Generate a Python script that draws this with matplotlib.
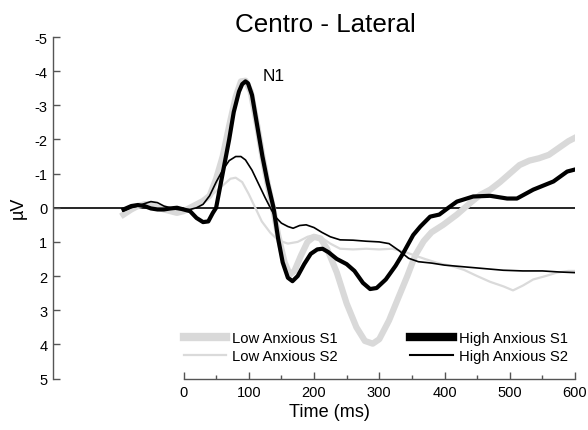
import matplotlib
matplotlib.use('Agg')
import matplotlib.pyplot as plt
from matplotlib.lines import Line2D

plt.rcParams['font.family'] = ['Liberation Sans', 'DejaVu Sans']
plt.rcParams['axes.unicode_minus'] = False

# time points (ms) and amplitudes (uV)
t_high1 = [-92, -80, -70, -60, -50, -40, -30, -20, -10, 0, 10, 20, 30, 38, 45, 50, 57, 64, 70, 77,
           85, 90, 95, 99, 105, 113, 121, 129, 138, 145, 152, 160, 167, 175, 185, 195, 205, 213,
           222, 235, 250, 262, 275, 286, 296, 310, 325, 337, 352, 363, 378, 392, 406, 419, 444,
           470, 496, 511, 536, 567, 588, 600]
v_high1 = [0.05, -0.05, -0.08, -0.05, 0.02, 0.05, 0.05, 0.02, 0.0, 0.05, 0.1, 0.3, 0.42, 0.4, 0.15,
           0.0, -0.7, -1.4, -2.0, -2.8, -3.4, -3.62, -3.7, -3.64, -3.3, -2.4, -1.5, -0.73, 0.0, 0.9,
           1.6, 2.05, 2.15, 2.0, 1.65, 1.35, 1.22, 1.2, 1.3, 1.5, 1.65, 1.85, 2.2, 2.38, 2.35, 2.1,
           1.7, 1.32, 0.8, 0.55, 0.26, 0.2, 0.0, -0.18, -0.33, -0.35, -0.27, -0.27, -0.53, -0.77,
           -1.06, -1.12]

t_high2 = [-92, -80, -70, -60, -50, -40, -30, -20, -10, 0, 10, 20, 30, 40, 50, 60, 70, 80, 88, 95,
           105, 115, 125, 133, 140, 150, 160, 168, 178, 188, 200, 212, 225, 240, 260, 280, 300, 315,
           330, 345, 360, 380, 400, 430, 460, 490, 520, 550, 575, 600]
v_high2 = [0.1, 0.0, -0.05, -0.12, -0.18, -0.15, -0.05, 0.0, 0.05, 0.05, 0.05, 0.0, -0.1, -0.35,
           -0.75, -1.1, -1.38, -1.5, -1.5, -1.4, -1.1, -0.7, -0.3, 0.0, 0.25, 0.45, 0.55, 0.6, 0.52,
           0.5, 0.58, 0.72, 0.85, 0.94, 0.95, 0.98, 1.0, 1.05, 1.25, 1.48, 1.58, 1.62, 1.68, 1.73,
           1.78, 1.83, 1.85, 1.85, 1.88, 1.9]

t_low1 = [-92, -80, -70, -60, -50, -40, -30, -20, -10, 0, 10, 20, 30, 40, 50, 60, 70, 80, 88, 95,
          103, 113, 121, 129, 138, 145, 155, 163, 170, 180, 190, 200, 210, 220, 235, 250, 265, 278,
          290, 300, 315, 330, 343, 355, 368, 380, 398, 419, 440, 455, 470, 485, 500, 515, 530, 545,
          560, 575, 590, 600]
v_low1 = [0.2, 0.05, -0.05, -0.1, -0.1, 0.0, 0.05, 0.1, 0.15, 0.1, 0.0, -0.1, -0.2, -0.35, -0.85,
          -1.5, -2.4, -3.25, -3.7, -3.72, -3.4, -2.4, -1.5, -0.7, 0.1, 0.8, 1.6, 1.96, 1.85, 1.4,
          1.0, 0.85, 0.9, 1.2, 1.9, 2.8, 3.5, 3.9, 3.98, 3.85, 3.3, 2.6, 2.0, 1.4, 0.98, 0.72, 0.5,
          0.2, -0.15, -0.38, -0.53, -0.75, -1.0, -1.25, -1.38, -1.45, -1.55, -1.75, -1.95, -2.05]

t_low2 = [-92, -80, -70, -60, -50, -40, -30, -20, -10, 0, 10, 20, 30, 45, 60, 72, 80, 90, 100, 110,
          120, 133, 145, 160, 175, 190, 200, 212, 225, 240, 260, 280, 300, 320, 340, 355, 370, 390,
          410, 430, 450, 470, 490, 505, 520, 536, 555, 572, 590, 600]
v_low2 = [0.15, 0.0, -0.1, -0.15, -0.15, -0.05, 0.0, 0.05, 0.1, 0.05, 0.0, -0.05, -0.15, -0.4,
          -0.65, -0.85, -0.88, -0.75, -0.4, 0.0, 0.4, 0.73, 0.95, 1.05, 1.0, 0.85, 0.8, 0.88, 1.05,
          1.2, 1.22, 1.2, 1.22, 1.2, 1.3, 1.4, 1.5, 1.62, 1.7, 1.82, 2.0, 2.17, 2.3, 2.42, 2.28,
          2.1, 2.0, 1.9, 1.85, 1.85]

labels = ['Low Anxious S1', 'Low Anxious S2', 'High Anxious S1', 'High Anxious S2']
colors = ['#d9d9d9', '#dadada', 'black', 'black']

fig = plt.figure(figsize=(5.88, 4.31), dpi=100)
ax = fig.add_axes([53/588, 1 - 379.5/431, 522/588, 341.5/431])

ax.axhline(0, color='black', lw=1.2, zorder=1)

ax.plot(t_low1, v_low1, color=colors[0], lw=4.5, zorder=2)
ax.plot(t_low2, v_low2, color=colors[1], lw=1.6, zorder=3)
ax.plot(t_high1, v_high1, color=colors[2], lw=3.0, zorder=5)
ax.plot(t_high2, v_high2, color=colors[3], lw=1.2, zorder=4)

ax.set_xlim(-200, 600)
ax.set_ylim(5, -5)
ax.set_yticks(range(-5, 6))
ax.set_xticks(range(0, 601, 100))
ax.set_xticks(range(50, 600, 100), minor=True)

for s in ['top', 'right']:
    ax.spines[s].set_visible(False)
ax.spines['bottom'].set_bounds(0, 600)
for s in ['left', 'bottom']:
    ax.spines[s].set_color('#555555')
    ax.spines[s].set_linewidth(1.0)

ax.tick_params(axis='y', direction='in', length=5, width=1, color='#555555', labelsize=10.5, pad=4)
ax.tick_params(axis='x', which='major', direction='in', length=5, width=1, color='#555555', labelsize=10.5, pad=5)
ax.tick_params(axis='x', which='minor', direction='in', length=3, width=1, color='#555555')

ax.text(121, -3.87, 'N1', fontsize=12.4, va='center', ha='left')

# legend handles are drawn thicker than the curves, as in the original
handles = [Line2D([], [], color=colors[0], lw=6),
           Line2D([], [], color=colors[1], lw=1.6),
           Line2D([], [], color=colors[2], lw=6),
           Line2D([], [], color=colors[3], lw=1.5)]
ax.legend(handles, labels, ncol=2, frameon=False, fontsize=10.7,
          loc='upper left', bbox_to_anchor=(0, 3.62), bbox_transform=ax.transData,
          borderpad=0, borderaxespad=0, handlelength=2.85, handletextpad=0.4,
          columnspacing=4.9, labelspacing=0.25)

fig.text(325/588, 1 - 25/431, 'Centro - Lateral', fontsize=18.7, ha='center', va='center')
fig.text(329/588, 1 - 413/431, 'Time (ms)', fontsize=13.1, ha='center', va='center')
fig.text(18/588, 1 - 208/431, 'µV', fontsize=13, rotation=90, ha='center', va='center')

fig.savefig('out.png', dpi=100)
